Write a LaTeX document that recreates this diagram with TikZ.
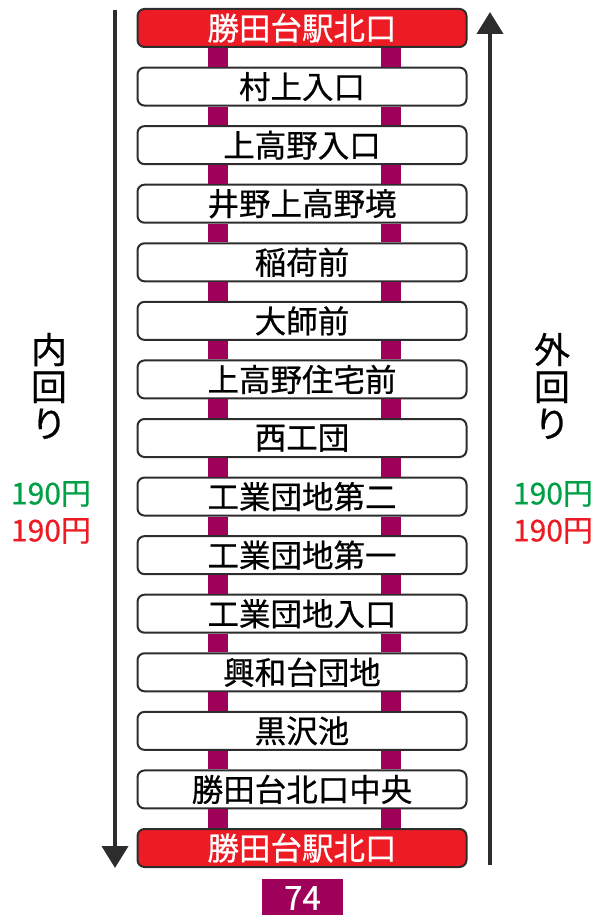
\documentclass[tikz,border=0pt]{standalone}
\usepackage{fontspec}
\setmainfont{Noto Sans CJK JP}
\newfontfamily\stopfont{Noto Sans CJK JP}[FakeBold=0.6]
\usetikzlibrary{arrows.meta}
\definecolor{linepurple}{RGB}{158,0,90}
\definecolor{stopred}{RGB}{237,28,36}
\definecolor{faregreen}{RGB}{0,160,70}
\definecolor{framegray}{RGB}{45,45,45}
\tikzset{
  stn/.style={draw=framegray, line width=2pt, fill=white, rounded corners=7pt,
    minimum width=329pt, minimum height=38pt, inner sep=0pt,
    font=\stopfont\fontsize{31.5}{32}\selectfont},
  term/.style={stn, fill=stopred, text=white},
  bar/.style={linepurple, line width=20pt},
  dirarrow/.style={framegray, line width=4pt, -{Triangle[width=26pt,length=22pt]}},
  dirlabel/.style={align=center, inner sep=0pt, font=\stopfont\fontsize{36}{37}\selectfont},
  fare/.style={inner sep=0pt, font=\stopfont\fontsize{30}{32}\selectfont}
}
\begin{document}
\begin{tikzpicture}[x=1pt, y=-1pt]
      \useasboundingbox (0,0) rectangle (597,915);
      % stops
      \node[term] (s1) at (302,28) {勝田台駅北口};
      \node[stn] (s2) at (302,86.57) {村上入口};
      \node[stn] (s3) at (302,145.14) {上高野入口};
      \node[stn] (s4) at (302,203.71) {井野上高野境};
      \node[stn] (s5) at (302,262.29) {稲荷前};
      \node[stn] (s6) at (302,320.86) {大師前};
      \node[stn] (s7) at (302,379.43) {上高野住宅前};
      \node[stn] (s8) at (302,438) {西工団};
      \node[stn] (s9) at (302,496.57) {工業団地第二};
      \node[stn] (s10) at (302,555.14) {工業団地第一};
      \node[stn] (s11) at (302,613.71) {工業団地入口};
      \node[stn] (s12) at (302,672.29) {興和台団地};
      \node[stn] (s13) at (302,730.86) {黒沢池};
      \node[stn] (s14) at (302,789.43) {勝田台北口中央};
      \node[term] (s15) at (302,848) {勝田台駅北口};
      % route bars
      \foreach \i [evaluate=\i as \j using int(\i+1)] in {1,...,14} {
        \draw[bar] ([xshift=-84pt]s\i.south) -- ([xshift=-84pt]s\j.north);
        \draw[bar] ([xshift=89pt]s\i.south) -- ([xshift=89pt]s\j.north);
      }
      % directions
      \coordinate (intop) at (115,10);
      \coordinate (inend) at (115,868);
      \coordinate (outstart) at (490,865);
      \coordinate (outend) at (490,12);
      \draw[dirarrow] (intop) -- (inend);
      \draw[dirarrow] (outstart) -- (outend);
      \node[dirlabel] (inner) at (49,386) {内\\回\\り};
      \node[dirlabel] (outer) at (552,386) {外\\回\\り};
      % fares
      \node[fare, text=faregreen] (infare1) at (51,494) {190円};
      \node[fare, text=stopred] (infare2) at (51,531) {190円};
      \node[fare, text=faregreen] (outfare1) at (553,494) {190円};
      \node[fare, text=stopred] (outfare2) at (553,531) {190円};
      % route number
      \node[fill=linepurple, text=white, minimum width=81pt, minimum height=38pt,
        inner sep=0pt, font=\stopfont\fontsize{33}{34}\selectfont] (route) at (302.5,898) {74};
\end{tikzpicture}
\end{document}
